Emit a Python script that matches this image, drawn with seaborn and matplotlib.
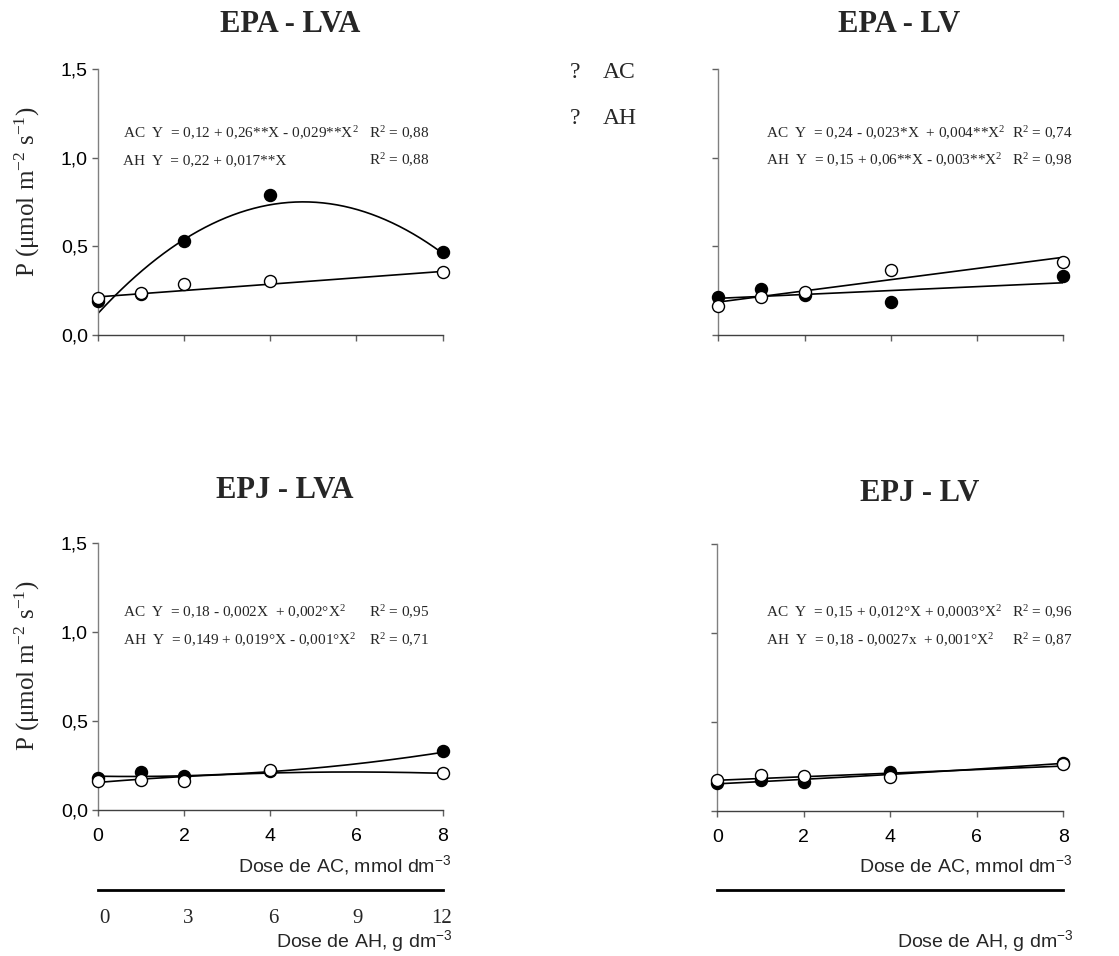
import numpy as np
import pandas as pd
import matplotlib
matplotlib.use("Agg")
import matplotlib.pyplot as plt
import seaborn as sns

# ---------------- data ----------------
doses_ac = [0, 1, 2, 4, 8]
doses_ah_labels = ["0", "3", "6", "9", "12"]
doses_ah_ticks = [0, 3, 6, 9, 12]

panel_titles = ["EPA - LVA", "EPA - LV", "EPJ - LVA", "EPJ - LV"]

# observed means (filled = AC, open = AH)
ac_epa_lva = [0.19, 0.23, 0.53, 0.79, 0.47]
ah_epa_lva = [0.21, 0.235, 0.29, 0.305, 0.357]
ac_epa_lv = [0.215, 0.26, 0.225, 0.186, 0.333]
ah_epa_lv = [0.165, 0.213, 0.245, 0.365, 0.414]
ac_epj_lva = [0.18, 0.215, 0.193, 0.22, 0.333]
ah_epj_lva = [0.165, 0.166, 0.165, 0.227, 0.21]
ac_epj_lv = [0.154, 0.173, 0.163, 0.218, 0.267]
ah_epj_lv = [0.169, 0.2, 0.195, 0.186, 0.259]

# fitted-curve coefficients (a, b, c) for y = a + b x + c x^2, as drawn
fit_ac_epa_lva = [0.12, 0.265, -0.0278]
fit_ah_epa_lva = [0.215, 0.018, 0.0]
fit_ac_epa_lv = [0.207, 0.011, 0.0]
fit_ah_epa_lv = [0.186, 0.0316, 0.0]
fit_ac_epj_lva = [0.19, -0.004, 0.0026]
fit_ah_epj_lva = [0.155, 0.02, -0.0017]
fit_ac_epj_lv = [0.15, 0.012, 0.0003]
fit_ah_epj_lv = [0.17, 0.01, 0.0]

eq_ac = [
    r"AC  Y  = 0,12 + 0,26**X - 0,029**X$^2$",
    r"AC  Y  = 0,24 - 0,023*X  + 0,004**X$^2$",
    r"AC  Y  = 0,18 - 0,002X  + 0,002°X$^2$",
    r"AC  Y  = 0,15 + 0,012°X + 0,0003°X$^2$",
]
eq_ah = [
    r"AH  Y  = 0,22 + 0,017**X",
    r"AH  Y  = 0,15 + 0,06**X - 0,003**X$^2$",
    r"AH  Y  = 0,149 + 0,019°X - 0,001°X$^2$",
    r"AH  Y  = 0,18 - 0,0027x  + 0,001°X$^2$",
]
r2_ac = ["R$^2$ = 0,88", "R$^2$ = 0,74", "R$^2$ = 0,95", "R$^2$ = 0,96"]
r2_ah = ["R$^2$ = 0,88", "R$^2$ = 0,98", "R$^2$ = 0,71", "R$^2$ = 0,87"]

y_ticks = [0.0, 0.5, 1.0, 1.5]
y_ticklabels = ["0,0", "0,5", "1,0", "1,5"]
x_ticks = [0, 2, 4, 6, 8]

# ---------------- figure ----------------
sns.set_theme(style="white")
plt.rcParams["font.family"] = ["Liberation Sans", "DejaVu Sans"]
plt.rcParams["mathtext.fontset"] = "custom"
plt.rcParams["mathtext.rm"] = "Liberation Serif"
plt.rcParams["mathtext.it"] = "Liberation Serif:italic"

W, H = 1119, 956
fig = plt.figure(figsize=(W / 100, H / 100), dpi=100)
fig.patch.set_facecolor("white")

def fx(px):
    return px / W

def fy(py):
    return 1 - py / H

# axes boxes in pixels: (left, right, y_of_0, y_of_1.5)
boxes = [
    (97.7, 442.7, 335.0, 69.3),
    (718.3, 1063.3, 335.0, 69.3),
    (97.7, 442.7, 810.0, 543.3),
    (717.3, 1063.3, 810.5, 543.8),
]
title_pos = [(290, 25), (899, 25), (285, 490), (920, 493)]
eq_pos = [(123.3, 369.3), (765.7, 1012.3), (123.3, 369.3), (765.7, 1012.3)]

obs = [
    (ac_epa_lva, ah_epa_lva, fit_ac_epa_lva, fit_ah_epa_lva),
    (ac_epa_lv, ah_epa_lv, fit_ac_epa_lv, fit_ah_epa_lv),
    (ac_epj_lva, ah_epj_lva, fit_ac_epj_lva, fit_ah_epj_lva),
    (ac_epj_lv, ah_epj_lv, fit_ac_epj_lv, fit_ah_epj_lv),
]

serif = ["Liberation Serif", "DejaVu Serif"]
xs = np.linspace(0, 8, 200)

for i, (l, r, y0, y15) in enumerate(boxes):
    ax = fig.add_axes([fx(l), fy(y0), (r - l) / W, (y0 - y15) / H])
    ac, ah, fac, fah = obs[i]
    for coef in (fac, fah):
        curve = pd.DataFrame({"x": xs, "y": coef[0] + coef[1] * xs + coef[2] * xs ** 2})
        sns.lineplot(data=curve, x="x", y="y", ax=ax, color="black", lw=1.2, zorder=2)
    df_ac = pd.DataFrame({"x": doses_ac, "y": ac})
    df_ah = pd.DataFrame({"x": doses_ac, "y": ah})
    sns.scatterplot(data=df_ac, x="x", y="y", ax=ax, color="black", s=75,
                    edgecolor="black", linewidth=1, zorder=3, clip_on=False)
    sns.scatterplot(data=df_ah, x="x", y="y", ax=ax, color="white", s=75,
                    edgecolor="black", linewidth=1, zorder=4, clip_on=False)
    ax.set_xlim(0, 8)
    ax.set_ylim(0, 1.5)
    ax.set_facecolor("none")
    for s in ("top", "right"):
        ax.spines[s].set_visible(False)
    ax.spines["left"].set_color("#808080")
    ax.spines["bottom"].set_color("#404040")
    ax.spines["left"].set_linewidth(1.0)
    ax.spines["bottom"].set_linewidth(1.0)
    ax.set_xticks(x_ticks)
    ax.set_yticks(y_ticks)
    ax.tick_params(axis="both", direction="out", length=4, width=1, color="#606060",
                   labelsize=14, labelcolor="black", pad=3,
                   bottom=True, left=True)
    ax.set_xlabel("")
    ax.set_ylabel("")
    if i in (0, 2):
        ax.set_yticklabels(y_ticklabels)
        ax.set_ylabel(r"P ($\mathregular{\mu}$mol m$^{-2}$ s$^{-1}$)", family=serif,
                      fontsize=18, va="center")
        ax.yaxis.set_label_coords((27 - l) / (r - l), 0.54)
    else:
        ax.set_yticklabels([])
    if i in (2, 3):
        ax.set_xticklabels([str(t) for t in x_ticks])
        ax.tick_params(axis="x", pad=9)
    else:
        ax.set_xticklabels([])

    # titles
    tx, ty = title_pos[i]
    fig.text(fx(tx), fy(ty), panel_titles[i], ha="center", va="center",
             family=serif, fontsize=22, fontweight="bold")
    # equations
    ex, rx = eq_pos[i]
    ey1 = 133.3 if i < 2 else 612.7
    ey2 = 160.7 if i < 2 else 640.0
    fig.text(fx(ex), fy(ey1), eq_ac[i], ha="left", va="center", family=serif, fontsize=11)
    fig.text(fx(ex), fy(ey2), eq_ah[i], ha="left", va="center", family=serif, fontsize=11)
    fig.text(fx(rx), fy(ey1), r2_ac[i], ha="left", va="center", family=serif, fontsize=11)
    fig.text(fx(rx), fy(ey2), r2_ah[i], ha="left", va="center", family=serif, fontsize=11)

    if i in (2, 3):
        fig.text(fx(r + 9), fy(866), r"Dose de AC, mmol dm$^{\mathregular{-3}}$",
                 ha="right", va="center", fontsize=14,
                 math_fontfamily="dejavusans")
        # secondary AH axis: line with labels
        ax2 = fig.add_axes([fx(l), fy(891), (r - l) / W, 0.001])
        ax2.set_facecolor("none")
        for s in ("left", "right", "bottom"):
            ax2.spines[s].set_visible(False)
        ax2.spines["top"].set_color("black")
        ax2.spines["top"].set_linewidth(2.0)
        ax2.set_yticks([])
        ax2.set_xlim(-0.235, 12.04)
        if i == 2:
            ax2.set_xticks(doses_ah_ticks)
            ax2.set_xticklabels(doses_ah_labels, family=serif, fontsize=15)
            ax2.tick_params(axis="x", length=0, pad=13)
        else:
            ax2.set_xticks([])
        fig.text(fx(r + 10), fy(942), r"Dose de AH, g dm$^{\mathregular{-3}}$",
                 ha="right", va="center", fontsize=14,
                 math_fontfamily="dejavusans")

# legend (literal "?" symbols as in the reference)
fig.text(fx(575), fy(72), "?", ha="center", va="center", family=serif, fontsize=17)
fig.text(fx(603), fy(72), "AC", ha="left", va="center", family=serif, fontsize=17)
fig.text(fx(575), fy(118), "?", ha="center", va="center", family=serif, fontsize=17)
fig.text(fx(603), fy(118), "AH", ha="left", va="center", family=serif, fontsize=17)

fig.savefig("out.png", dpi=100, facecolor="white")
